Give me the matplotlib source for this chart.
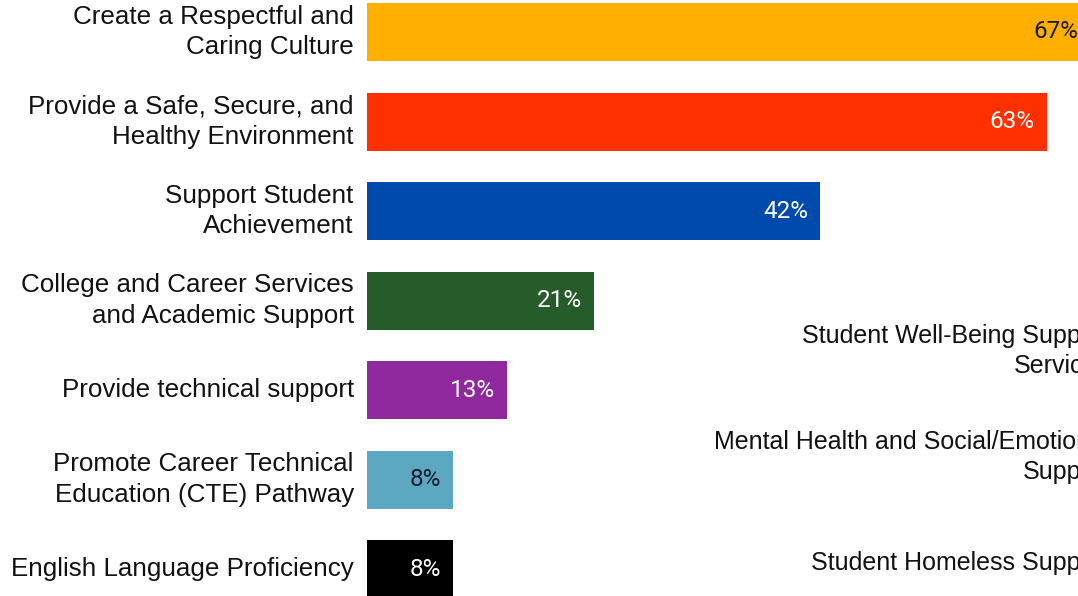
import matplotlib
matplotlib.use("Agg")
import matplotlib.pyplot as plt

categories = [
    "Create a Respectful and\nCaring Culture",
    "Provide a Safe, Secure, and\nHealthy Environment",
    "Support Student\nAchievement",
    "College and Career Services\nand Academic Support",
    "Provide technical support",
    "Promote Career Technical\nEducation (CTE) Pathway",
    "English Language Proficiency",
]
values = [67, 63, 42, 21, 13, 8, 8]
bar_colors = ["#FFAF00", "#FF3000", "#004AAD", "#265C2A", "#90289E", "#5BA8C0", "#000000"]
label_colors = ["#1a1a1a", "white", "white", "white", "white", "#1a1a2e", "white"]

right_categories = [
    "Student Well-Being Support\nServices",
    "Mental Health and Social/Emotional\nSupport",
    "Student Homeless Support",
]

W, H = 1078, 596
fig = plt.figure(figsize=(W / 100, H / 100), dpi=100)
fig.patch.set_facecolor("white")

px_per_pct = 10.79
x0 = 367
ax = fig.add_axes([x0 / W, 0, px_per_pct * 100 / W, 1])
ax.set_xlim(0, 100)
row_px = 89.5
top_c = 32
ax.set_ylim((H - top_c) / row_px, -top_c / row_px)

ys = list(range(len(categories)))
ax.barh(ys, values, height=58 / row_px, color=bar_colors, clip_on=True)

for y, v, c in zip(ys, values, label_colors):
    ax.text(v - 12 / px_per_pct, y, f"{v}%", ha="right", va="center",
            color=c, fontsize=17.5, family="Roboto")

ax.set_yticks(ys)
ax.set_yticklabels(categories, family="Liberation Sans", fontsize=18.7, color="#111111",
                   linespacing=1.32, va="center")
ax.tick_params(axis="y", length=0, pad=9.5)
ax.set_xticks([])
for s in ax.spines.values():
    s.set_visible(False)
ax.patch.set_alpha(0)

right_y = [351, 457, 563]
for lab, yp in zip(right_categories, right_y):
    fig.text(1110 / W, 1 - yp / H, lab, ha="right", va="center",
             family="Liberation Sans", fontsize=18, color="#111111", linespacing=1.27)

fig.savefig("out.png", dpi=100, facecolor="white")
